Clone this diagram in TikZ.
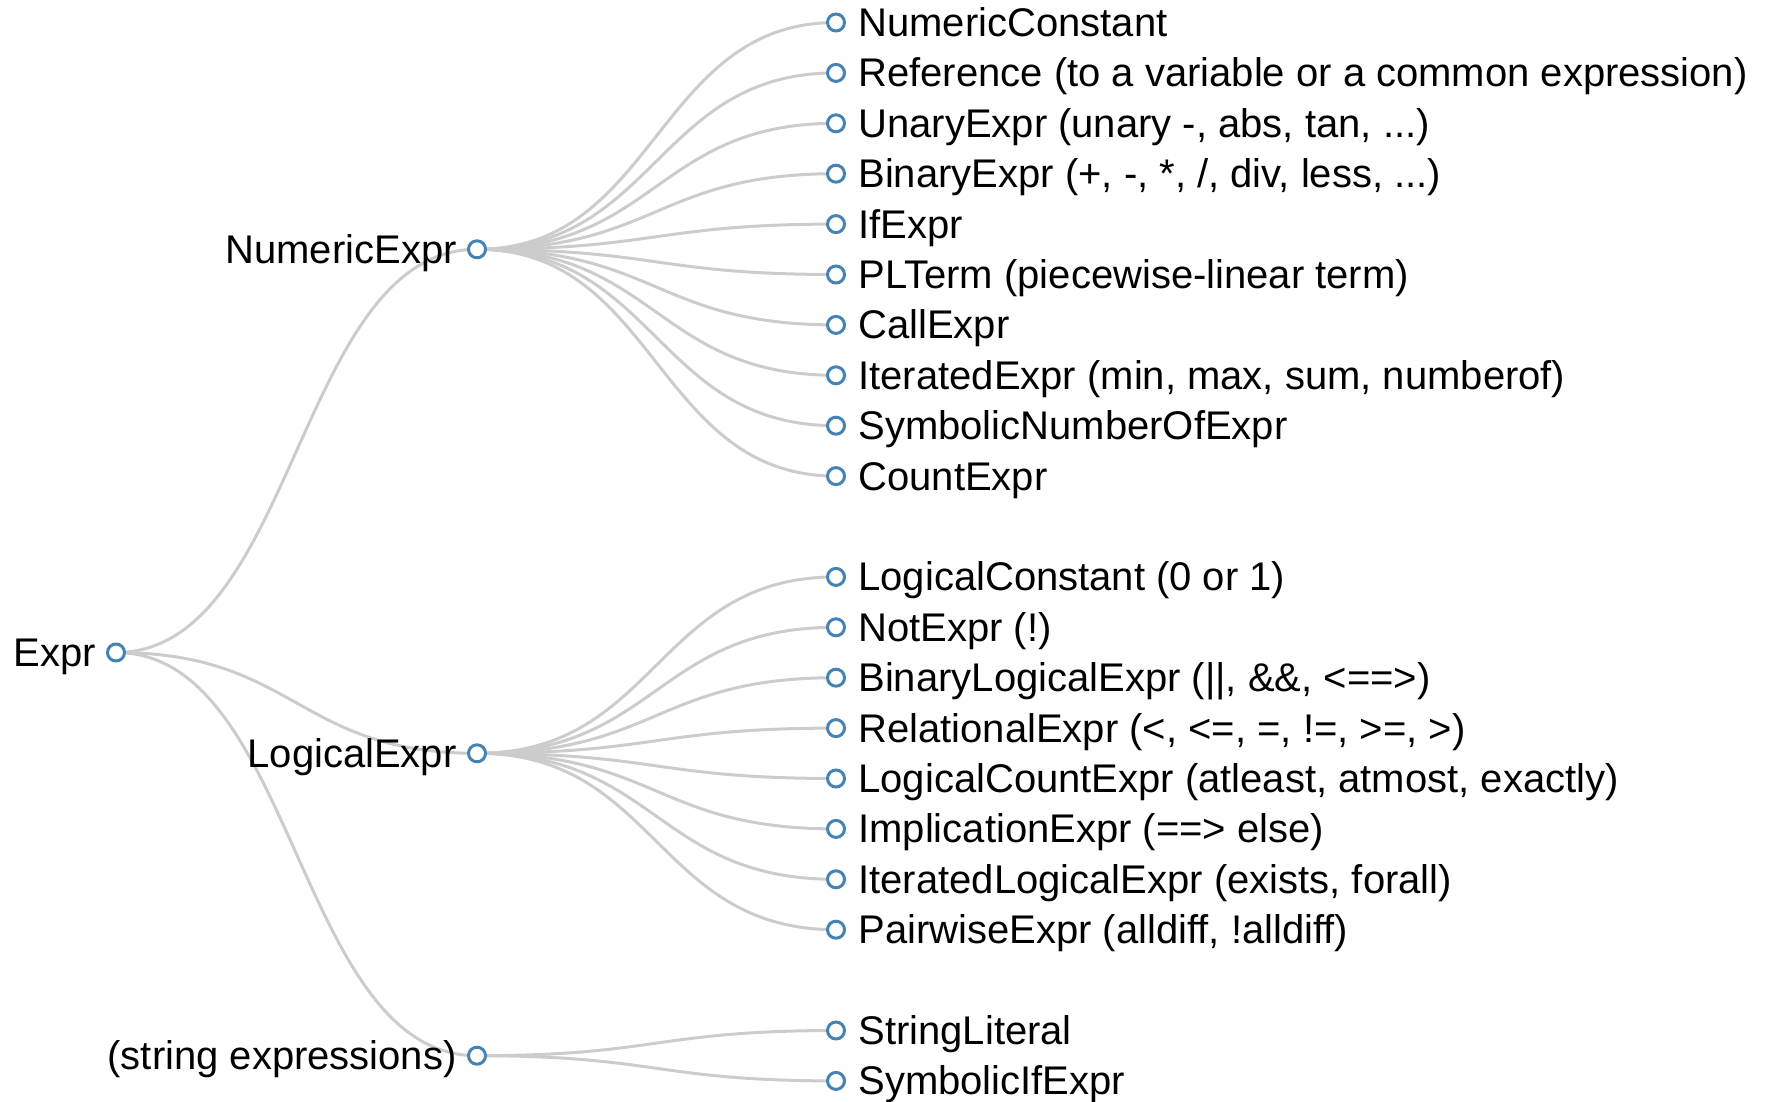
\documentclass[tikz,border=0pt]{standalone}
\usepackage{fontspec}
\setmainfont{Liberation Sans}
\usepackage{xcolor}
\usepackage{tikz}
\usetikzlibrary{positioning,backgrounds}
\definecolor{steelblue}{HTML}{4682B4}
\definecolor{linkgray}{HTML}{CCCCCC}

\begin{document}
\begin{tikzpicture}[
  x=0.5pt, y=-0.5pt,
  every node/.style={font=\fontsize{20}{24}\selectfont},
  dot/.style={circle, draw=steelblue, fill=white, line width=1.5pt,
              minimum size=8.5pt, inner sep=0pt},
  lbl/.style={inner sep=0pt, text height=14pt, text depth=0pt},
  leaf/.style={dot, label={[lbl, label distance=6pt]right:#1}},
  inner/.style={dot, label={[lbl, label distance=5pt]left:#1}},
  link/.style={draw=linkgray, line width=1.5pt},
]
  \useasboundingbox (0,0) rectangle (1767,1102);

  % Root and the three branches
  \node[inner=Expr]                   (expr) at (116,652.5) {};
  \node[inner=NumericExpr]            (num)  at (477,249.3) {};
  \node[inner=LogicalExpr]            (log)  at (477,753.3) {};
  \node[inner={(string expressions)}] (str)  at (477,1055.7) {};

  % Numeric leaves
  \node[leaf=NumericConstant] (n0) at (836,22.5) {};
  \node[leaf={Reference (to a variable or a common expression)}] (n1) at (836,72.9) {};
  \node[leaf={UnaryExpr (unary -, abs, tan, ...)}] (n2) at (836,123.3) {};
  \node[leaf={BinaryExpr (+, -, *, /, div, less, ...)}] (n3) at (836,173.7) {};
  \node[leaf=IfExpr] (n4) at (836,224.1) {};
  \node[leaf={PLTerm (piecewise-linear term)}] (n5) at (836,274.5) {};
  \node[leaf=CallExpr] (n6) at (836,324.9) {};
  \node[leaf={IteratedExpr (min, max, sum, numberof)}] (n7) at (836,375.3) {};
  \node[leaf=SymbolicNumberOfExpr] (n8) at (836,425.7) {};
  \node[leaf=CountExpr] (n9) at (836,476.1) {};

  % Logical leaves
  \node[leaf={LogicalConstant (0 or 1)}] (l0) at (836,576.9) {};
  \node[leaf={NotExpr (!)}] (l1) at (836,627.3) {};
  \node[leaf={BinaryLogicalExpr (||, \&\&, <==>)}] (l2) at (836,677.7) {};
  \node[leaf={RelationalExpr (<, <=, =, !=, >=, >)}] (l3) at (836,728.1) {};
  \node[leaf={LogicalCountExpr (atleast, atmost, exactly)}] (l4) at (836,778.5) {};
  \node[leaf={ImplicationExpr (==> else)}] (l5) at (836,828.9) {};
  \node[leaf={IteratedLogicalExpr (exists, forall)}] (l6) at (836,879.3) {};
  \node[leaf={PairwiseExpr (alldiff, !alldiff)}] (l7) at (836,929.7) {};

  % String leaves
  \node[leaf=StringLiteral] (s0) at (836,1030.5) {};
  \node[leaf=SymbolicIfExpr] (s1) at (836,1080.9) {};

  % Links, drawn behind the dots
  \begin{scope}[on background layer]
    \draw[link] (expr.center) .. controls +(180,0) and +(-180,0) .. (num.center);
    \draw[link] (expr.center) .. controls +(180,0) and +(-180,0) .. (log.center);
    \draw[link] (expr.center) .. controls +(180,0) and +(-180,0) .. (str.center);

    \draw[link] (num.center) .. controls +(180,0) and +(-180,0) .. (n0.center);
    \draw[link] (num.center) .. controls +(180,0) and +(-180,0) .. (n1.center);
    \draw[link] (num.center) .. controls +(180,0) and +(-180,0) .. (n2.center);
    \draw[link] (num.center) .. controls +(180,0) and +(-180,0) .. (n3.center);
    \draw[link] (num.center) .. controls +(180,0) and +(-180,0) .. (n4.center);
    \draw[link] (num.center) .. controls +(180,0) and +(-180,0) .. (n5.center);
    \draw[link] (num.center) .. controls +(180,0) and +(-180,0) .. (n6.center);
    \draw[link] (num.center) .. controls +(180,0) and +(-180,0) .. (n7.center);
    \draw[link] (num.center) .. controls +(180,0) and +(-180,0) .. (n8.center);
    \draw[link] (num.center) .. controls +(180,0) and +(-180,0) .. (n9.center);

    \draw[link] (log.center) .. controls +(180,0) and +(-180,0) .. (l0.center);
    \draw[link] (log.center) .. controls +(180,0) and +(-180,0) .. (l1.center);
    \draw[link] (log.center) .. controls +(180,0) and +(-180,0) .. (l2.center);
    \draw[link] (log.center) .. controls +(180,0) and +(-180,0) .. (l3.center);
    \draw[link] (log.center) .. controls +(180,0) and +(-180,0) .. (l4.center);
    \draw[link] (log.center) .. controls +(180,0) and +(-180,0) .. (l5.center);
    \draw[link] (log.center) .. controls +(180,0) and +(-180,0) .. (l6.center);
    \draw[link] (log.center) .. controls +(180,0) and +(-180,0) .. (l7.center);

    \draw[link] (str.center) .. controls +(180,0) and +(-180,0) .. (s0.center);
    \draw[link] (str.center) .. controls +(180,0) and +(-180,0) .. (s1.center);
  \end{scope}
\end{tikzpicture}
\end{document}
